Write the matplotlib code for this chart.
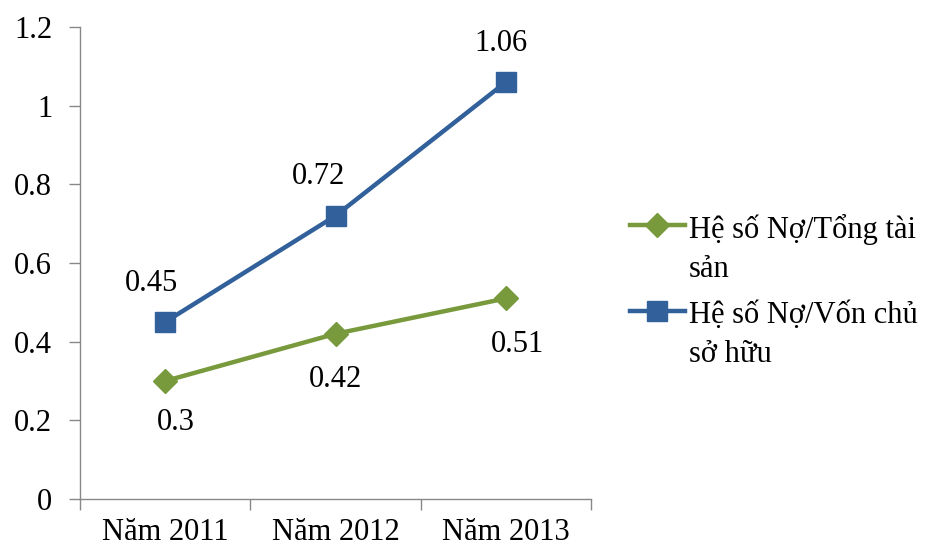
import numpy as np
import matplotlib.pyplot as plt

plt.rcParams['font.family'] = ['Liberation Serif', 'DejaVu Serif']

# dữ liệu
nam = ['Năm 2011', 'Năm 2012', 'Năm 2013']
no_tong_tai_san = [0.3, 0.42, 0.51]
no_von_chu = [0.45, 0.72, 1.06]
ten_tong_tai_san = 'Hệ số Nợ/Tổng tài\nsản'
ten_von_chu = 'Hệ số Nợ/Vốn chủ\nsở hữu'

xanh_la = '#78993C'
xanh_duong = '#31609A'

fig = plt.figure(figsize=(9.33, 5.49), dpi=100)
ax = fig.add_axes([0.0857, 0.091, 0.548, 0.86])

x = np.arange(len(nam))
ax.plot(x, no_tong_tai_san, color=xanh_la, lw=3.2, marker='D', markersize=12,
        label=ten_tong_tai_san)
ax.plot(x, no_von_chu, color=xanh_duong, lw=3.2, marker='s', markersize=15,
        label=ten_von_chu)

# nhãn giá trị (độ lệch tính theo pixel)
lech_la = [(8, -30), (0, -33), (8, -33)]
lech_duong = [(-10, 28), (-12, 28), (-4, 28)]
for i in range(len(nam)):
    ax.annotate(f'{no_tong_tai_san[i]:g}', (x[i], no_tong_tai_san[i]),
                xytext=lech_la[i], textcoords='offset points',
                ha='center', va='center', fontsize=22)
    ax.annotate(f'{no_von_chu[i]:g}', (x[i], no_von_chu[i]),
                xytext=lech_duong[i], textcoords='offset points',
                ha='center', va='center', fontsize=22)

ax.set_xlim(-0.5, 2.5)
ax.set_ylim(0, 1.2)
ax.set_yticks([0, 0.2, 0.4, 0.6, 0.8, 1.0, 1.2])
ax.set_yticklabels(['0', '0.2', '0.4', '0.6', '0.8', '1', '1.2'])
ax.set_xticks(x)
ax.set_xticklabels(nam)
ax.set_xticks([-0.5, 0.5, 1.5, 2.5], minor=True)
ax.tick_params(axis='x', which='major', length=0, pad=14)
ax.tick_params(axis='x', which='minor', length=8, color='#888888', width=1)
ax.tick_params(axis='y', length=8, color='#888888', width=1, pad=12)
ax.tick_params(labelsize=22)

for s in ['top', 'right']:
    ax.spines[s].set_visible(False)
for s in ['left', 'bottom']:
    ax.spines[s].set_color('#888888')
    ax.spines[s].set_linewidth(1)

leg = ax.legend(loc='center left', bbox_to_anchor=(1.045, 0.44), frameon=False,
                fontsize=22, handlelength=1.8, handletextpad=0.15,
                labelspacing=0.55, borderpad=0)
for t in leg.get_texts():
    t.set_linespacing(1.45)
# ký hiệu chú giải đặt ngang dòng đầu của nhãn
for cot in leg._legend_handle_box.get_children():
    for muc in cot.get_children():
        muc.align = 'top'

fig.savefig('out.png', dpi=100)
